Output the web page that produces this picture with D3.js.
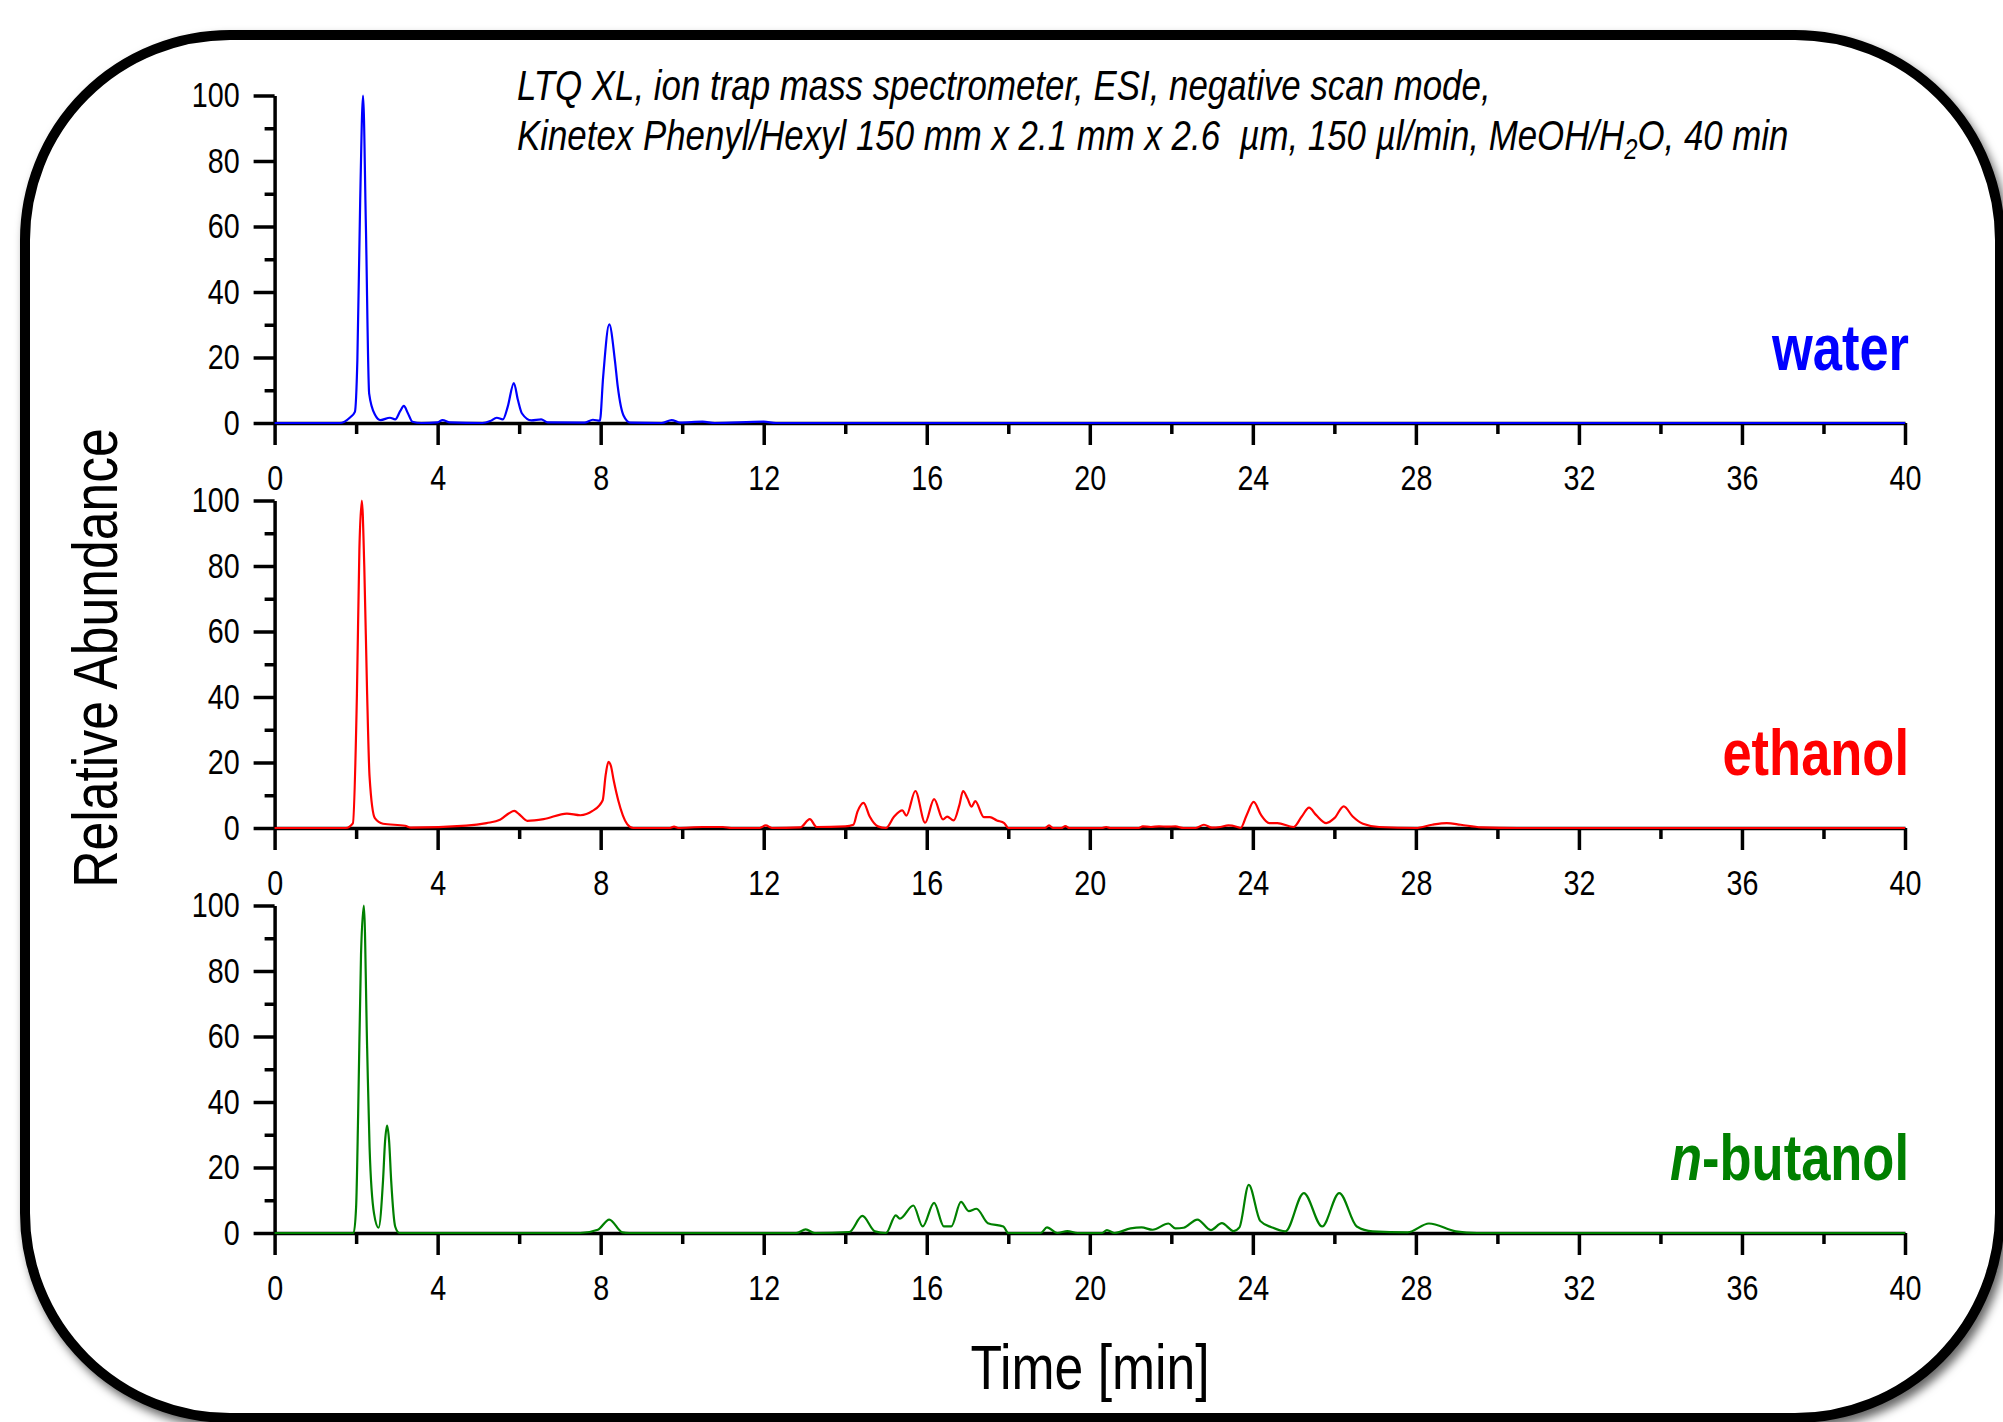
<!DOCTYPE html>
<html>
<head>
<meta charset="utf-8">
<script src="https://cdn.jsdelivr.net/npm/d3@7.9.0/dist/d3.min.js"></script>
<style>
  body { margin: 0; background: #fff; }
  svg { display: block; }
  text { white-space: pre; }
</style>
</head>
<body>
<svg id="chart"></svg>
<script>
// ------------------- Data -------------------
const panelNames = ['water', 'ethanol', 'n-butanol'];
const panelColors = ['#0000ff', '#ff0000', '#008000'];
const xTicks = [0, 4, 8, 12, 16, 20, 24, 28, 32, 36, 40];
const xMinorTicks = [2, 6, 10, 14, 18, 22, 26, 30, 34, 38];
const yTicks = [0, 20, 40, 60, 80, 100];
const yMinorTicks = [10, 30, 50, 70, 90];
const titleLines = [
  'LTQ XL, ion trap mass spectrometer, ESI, negative scan mode,',
  'Kinetex Phenyl/Hexyl 150 mm x 2.1 mm x 2.6 \u00a0\u00b5m, 150 \u00b5l/min, MeOH/H|2|O, 40 min'
];

// [time (min), relative abundance (%)]
const waterTrace = [
  [0, 0], [1.6, 0], [1.85, 1.7], [1.97, 3.4], [2.03, 19], [2.1, 68], [2.17, 100], [2.24, 60],
  [2.32, 9], [2.46, 2.6], [2.6, 0.9], [2.83, 1.6], [2.96, 1.1], [3.08, 3.6], [3.17, 5.2],
  [3.27, 3], [3.38, 0.4], [3.6, 0], [4.0, 0.2], [4.12, 0.9], [4.3, 0.2], [5.1, 0], [5.29, 0.6],
  [5.45, 1.6], [5.6, 1.1], [5.72, 5], [5.87, 12.2], [5.97, 7], [6.07, 2.9], [6.3, 0.8],
  [6.54, 1.1], [6.7, 0.2], [7.6, 0.1], [7.81, 1.0], [7.98, 0.7], [8.06, 14], [8.21, 30.1],
  [8.35, 19], [8.42, 11], [8.56, 2.3], [8.73, 0.1], [9.5, 0], [9.74, 0.9], [9.95, 0.1],
  [10.5, 0.4], [10.8, 0], [12.0, 0.4], [12.3, 0], [40, 0]
];

const ethanolTrace = [
  [0, 0], [1.75, 0], [1.92, 1.4], [2.02, 41], [2.08, 85], [2.14, 100], [2.2, 80], [2.27, 41],
  [2.33, 15.6], [2.46, 3], [2.66, 1.3], [3.2, 0.7], [3.35, 0.1], [4.7, 0.7], [5.2, 1.5],
  [5.53, 2.5], [5.75, 4.5], [5.88, 5.2], [6.0, 4.2], [6.2, 2.2], [6.6, 2.7], [7.17, 4.4],
  [7.5, 3.9], [7.8, 5.2], [8.05, 8.5], [8.12, 16], [8.19, 20.2], [8.25, 19], [8.32, 14.5],
  [8.43, 8.5], [8.65, 1.2], [8.8, 0], [9.7, 0], [9.8, 0.4], [9.9, 0], [10.5, 0.3], [11.0, 0.3],
  [11.2, 0], [11.9, 0], [12.05, 0.8], [12.2, 0], [12.9, 0.2], [13.13, 2.7], [13.3, 0.3],
  [14.0, 0.5], [14.2, 1], [14.3, 5], [14.45, 7.7], [14.6, 3.5], [14.8, 0.5], [15.0, 0],
  [15.2, 3.5], [15.4, 5.4], [15.5, 3.8], [15.72, 11.3], [15.96, 1.6], [16.18, 8.8], [16.4, 2.6],
  [16.5, 3.5], [16.66, 2.3], [16.8, 7], [16.89, 11.3], [17.0, 9], [17.1, 6.5], [17.19, 8.2],
  [17.4, 3.3], [17.55, 3.3], [17.72, 2.3], [17.9, 1.5], [18.0, 0], [18.9, 0], [19.0, 0.8],
  [19.1, 0], [19.3, 0], [19.4, 0.6], [19.5, 0], [20.3, 0], [20.4, 0.3], [20.5, 0], [21.2, 0],
  [21.3, 0.5], [21.5, 0.3], [21.7, 0.5], [21.9, 0.4], [22.1, 0.5], [22.3, 0], [22.6, 0],
  [22.8, 1.0], [23.0, 0.1], [23.2, 0.3], [23.4, 0.8], [23.6, 0.4], [23.7, 0], [23.85, 4],
  [24.02, 8.0], [24.2, 4], [24.4, 1.5], [24.6, 1.5], [25.0, 0.3], [25.2, 3.5], [25.38, 6.2],
  [25.55, 4], [25.8, 1.5], [26.0, 3], [26.23, 6.6], [26.45, 3.5], [26.7, 1.3], [27.1, 0.3],
  [28.0, 0], [28.4, 1.0], [28.76, 1.5], [29.1, 1.0], [29.6, 0.2], [30.5, 0], [40, 0]
];

const butanolTrace = [
  [0, 0], [1.94, 0], [2.0, 8], [2.05, 36.4], [2.12, 85], [2.19, 100], [2.27, 56.7], [2.33, 26.2],
  [2.44, 5.9], [2.55, 1.6], [2.66, 16], [2.71, 28], [2.76, 32.8], [2.81, 28], [2.86, 16],
  [2.96, 1.9], [3.06, 0], [7.5, 0], [7.93, 1], [8.21, 4.1], [8.53, 0.2], [8.7, 0], [12.8, 0],
  [13.03, 1.1], [13.25, 0], [14.1, 0.3], [14.42, 5.2], [14.73, 0.5], [15.0, 0], [15.24, 5.4],
  [15.34, 4.4], [15.67, 8.4], [15.9, 2.0], [16.18, 9.2], [16.42, 2], [16.6, 2], [16.84, 9.5],
  [17.03, 6.7], [17.22, 7.4], [17.5, 3], [17.88, 2], [18.0, 0], [18.8, 0], [18.95, 1.7],
  [19.2, 0], [19.45, 0.6], [19.7, 0], [20.3, 0], [20.42, 0.9], [20.6, 0], [21.0, 1.4],
  [21.27, 1.7], [21.54, 1], [21.93, 2.9], [22.1, 1.4], [22.3, 1.6], [22.64, 4.1], [22.97, 0.9],
  [23.24, 3.0], [23.53, 0.6], [23.67, 1.7], [23.9, 14.7], [24.18, 3.7], [24.47, 1.7],
  [24.8, 0.5], [25.25, 12.2], [25.7, 2], [26.12, 12.2], [26.55, 2], [26.94, 0.5], [27.8, 0.2],
  [28.32, 2.9], [28.98, 0.5], [29.5, 0], [40, 0]
];

const traces = [waterTrace, ethanolTrace, butanolTrace];

// ------------------- Font check -------------------
// Arial Narrow look: use Liberation Sans Narrow if present, else squeeze Liberation Sans
const ctx = document.createElement('canvas').getContext('2d');
ctx.font = '40px "Liberation Sans Narrow", monospace';
const wNarrow = ctx.measureText('Relative Abundance').width;
ctx.font = '40px monospace';
const wMono = ctx.measureText('Relative Abundance').width;
const hasNarrow = Math.abs(wNarrow - wMono) > 1;
const FONT = hasNarrow ? '"Liberation Sans Narrow", "Arial Narrow", sans-serif' : '"Liberation Sans", Arial, sans-serif';
const SX = hasNarrow ? 1 : 0.82;

function squeeze(sel) {
  if (SX === 1) return;
  sel.each(function () {
    const t = d3.select(this);
    const x = +t.attr('x') || 0, y = +t.attr('y') || 0;
    const prev = t.attr('transform') || '';
    t.attr('x', 0).attr('y', 0)
      .attr('transform', `${prev} translate(${x},${y}) scale(${SX},1)`);
  });
}

// ------------------- Layout -------------------
const width = 2003, height = 1422;
const plotLeft = 274.6, plotRight = 1905;
const panelTop0 = 95.5, panelHeight = 327.5, panelStep = 405;

const svg = d3.select('#chart')
  .attr('width', width)
  .attr('height', height)
  .style('font-family', FONT);

// ------------------- Frame -------------------
const defs = svg.append('defs');
defs.append('filter')
  .attr('id', 'shadow')
  .attr('x', '-5%').attr('y', '-5%').attr('width', '110%').attr('height', '110%')
  .append('feDropShadow')
  .attr('dx', 4).attr('dy', 6)
  .attr('stdDeviation', 5)
  .attr('flood-color', '#000')
  .attr('flood-opacity', 0.6);

svg.append('rect')
  .attr('x', 25).attr('y', 35)
  .attr('width', 1975).attr('height', 1383)
  .attr('rx', 205).attr('ry', 205)
  .attr('fill', '#fff')
  .attr('stroke', '#000')
  .attr('stroke-width', 10)
  .attr('filter', 'url(#shadow)');

// ------------------- Scales -------------------
const xScale = d3.scaleLinear().domain([0, 40]).range([plotLeft, plotRight]);

const line = d3.line()
  .x(d => xScale(d[0]))
  .curve(d3.curveMonotoneX);

// ------------------- Panels -------------------
traces.forEach((trace, i) => {
  const top = panelTop0 + i * panelStep;
  const bottom = top + panelHeight;
  const yScale = d3.scaleLinear().domain([0, 100]).range([bottom, top]);
  const g = svg.append('g').attr('class', 'panel');

  // minor ticks first, so the main axis draws over them
  g.append('g')
    .attr('transform', `translate(${plotLeft},0)`)
    .call(d3.axisLeft(yScale).tickValues(yMinorTicks).tickSize(10).tickFormat(''))
    .call(a => a.select('.domain').remove());

  g.append('g')
    .attr('transform', `translate(0,${bottom})`)
    .call(d3.axisBottom(xScale).tickValues(xMinorTicks).tickSize(11).tickFormat(''))
    .call(a => a.select('.domain').remove());

  g.append('g')
    .attr('class', 'y-axis')
    .attr('transform', `translate(${plotLeft},0)`)
    .call(d3.axisLeft(yScale).tickValues(yTicks).tickSize(21).tickSizeOuter(0).tickPadding(14));

  g.append('g')
    .attr('class', 'x-axis')
    .attr('transform', `translate(0,${bottom})`)
    .call(d3.axisBottom(xScale).tickValues(xTicks).tickSize(22).tickSizeOuter(0).tickPadding(20));

  g.selectAll('.domain, .tick line')
    .attr('stroke', '#000')
    .attr('stroke-width', 3.5);

  g.selectAll('.tick text')
    .attr('fill', '#000')
    .style('font-family', FONT)
    .style('font-size', '35px')
    .call(squeeze);

  g.append('path')
    .datum(trace)
    .attr('fill', 'none')
    .attr('stroke', panelColors[i])
    .attr('stroke-width', 2.2)
    .attr('stroke-linejoin', 'round')
    .attr('d', line.y(d => yScale(d[1])));

  // sample name on the right
  const lbl = g.append('text')
    .attr('x', 1909)
    .attr('y', 370 + i * panelStep)
    .attr('text-anchor', 'end')
    .attr('fill', panelColors[i])
    .style('font-size', '64px')
    .style('font-weight', 'bold');
  const name = panelNames[i];
  if (name.startsWith('n-')) {
    lbl.append('tspan').style('font-style', 'italic').text('n');
    lbl.append('tspan').text(name.slice(1));
  } else {
    lbl.text(name);
  }
  lbl.call(squeeze);
});

// ------------------- Method text -------------------
titleLines.forEach((str, i) => {
  const t = svg.append('text')
    .attr('x', 517)
    .attr('y', 100 + i * 50)
    .style('font-size', '42.5px')
    .style('font-style', 'italic')
    .attr('fill', '#000');
  str.split('|').forEach((part, j) => {
    const ts = t.append('tspan').text(part);
    if (j === 1) ts.style('font-size', '29px').attr('dy', 9);
    if (j === 2) ts.attr('dy', -9);
  });
  t.call(squeeze);
});

// ------------------- Axis titles -------------------
svg.append('text')
  .attr('transform', `translate(117,658) rotate(-90) scale(${SX},1)`)
  .attr('text-anchor', 'middle')
  .style('font-size', '63px')
  .text('Relative Abundance');

svg.append('text')
  .attr('x', 1090)
  .attr('y', 1389)
  .attr('text-anchor', 'middle')
  .style('font-size', '63px')
  .text('Time [min]')
  .call(squeeze);
</script>
</body>
</html>
